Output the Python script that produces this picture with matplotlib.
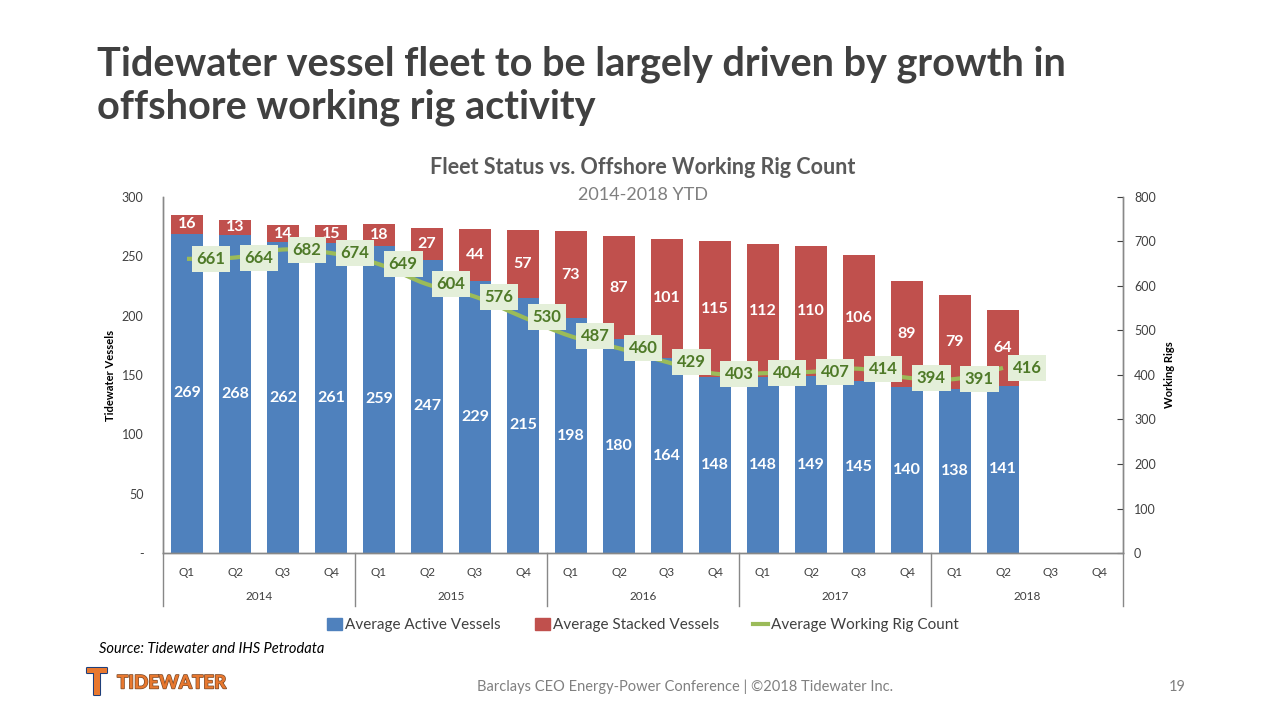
import matplotlib
matplotlib.use("Agg")
import matplotlib.pyplot as plt
from matplotlib.path import Path
from matplotlib.patches import PathPatch, Patch
from matplotlib.lines import Line2D
import matplotlib.patheffects as pe
import matplotlib.transforms as mtransforms
import numpy as np

plt.rcParams['font.family'] = ['Lato', 'DejaVu Sans']

quarters = ["Q1", "Q2", "Q3", "Q4"] * 5
years = ["2014", "2015", "2016", "2017", "2018"]
active = [269, 268, 262, 261, 259, 247, 229, 215, 198, 180, 164, 148, 148, 149, 145, 140, 138, 141]
stacked = [16, 13, 14, 15, 18, 27, 44, 57, 73, 87, 101, 115, 112, 110, 106, 89, 79, 64]
rigs = [661, 664, 682, 674, 649, 604, 576, 530, 487, 460, 429, 403, 404, 407, 414, 394, 391, 416]

BLUE = "#4f81bd"
RED = "#c0504d"
GREEN = "#9bbb59"
DKGREEN = "#4f7a28"
LBOX = "#e4efd9"
GRAY = "#404040"

fig = plt.figure(figsize=(12.8, 7.2), dpi=100)
ax = fig.add_axes([163/1280, 1-553/720, (1123-163)/1280, (553-197)/720])
ax2 = ax.twinx()

n = len(quarters)
x = np.arange(len(active))
w = 0.66
ax.bar(x, active, width=w, color=BLUE, zorder=2)
ax.bar(x, stacked, width=w, bottom=active, color=RED, zorder=2)
ax.set_xlim(-0.5, n - 0.5)
ax.set_ylim(0, 300)
ax.set_yticks([0, 50, 100, 150, 200, 250, 300])
ax.set_yticklabels(["-", "50", "100", "150", "200", "250", "300"])
ax.tick_params(axis='y', length=0, labelsize=9, colors=GRAY, pad=14)
ax.set_xticks([])
ax2.set_ylim(0, 800)
ax2.set_yticks(range(0, 801, 100))
ax2.tick_params(axis='y', direction='in', length=4, labelsize=9, colors=GRAY, pad=8)
for a in (ax, ax2):
    a.spines['top'].set_visible(False)
    for s in ('left', 'right', 'bottom'):
        a.spines[s].set_color("#888888")
        a.spines[s].set_linewidth(1)
ax.patch.set_visible(False)

for i in x:
    ax.text(i, active[i] / 2, str(active[i]), ha='center', va='center', color='white',
            fontsize=11.5, fontweight='bold', zorder=3)
    ax.text(i, active[i] + stacked[i] / 2, str(stacked[i]), ha='center', va='center',
            color='white', fontsize=11.5, fontweight='bold', zorder=3)

# smoothed line through rig points (Catmull-Rom as cubic Bezier)
pts = np.column_stack([x, rigs]).astype(float)
verts = [tuple(pts[0])]
codes = [Path.MOVETO]
for i in range(len(pts) - 1):
    p0 = pts[i - 1] if i > 0 else pts[i]
    p1 = pts[i]
    p2 = pts[i + 1]
    p3 = pts[i + 2] if i + 2 < len(pts) else pts[i + 1]
    c1 = p1 + (p2 - p0) / 6
    c2 = p2 - (p3 - p1) / 6
    verts += [tuple(c1), tuple(c2), tuple(p2)]
    codes += [Path.CURVE4] * 3
ax2.add_patch(PathPatch(Path(verts, codes), fill=False, edgecolor=GREEN, lw=3, zorder=4))
for i in x:
    ax2.text(i + 0.5, rigs[i], str(rigs[i]), ha='center', va='center', color=DKGREEN,
             fontsize=12, fontweight='bold', zorder=5,
             bbox=dict(boxstyle='square,pad=0.3', fc=LBOX, ec='none'))

# category axis
trans = mtransforms.blended_transform_factory(ax.transData, fig.transFigure)
for i, q in enumerate(quarters):
    fig.text(i, 1 - 572/720, q, transform=trans, ha='center', va='center', fontsize=8.5, color=GRAY)
for k, yr in enumerate(years):
    fig.text(4 * k + 1.5, 1 - 597/720, yr, transform=trans, ha='center', va='center', fontsize=8.5, color=GRAY)
for b in [-0.5, 3.5, 7.5, 11.5, 15.5, 19.5]:
    ln = Line2D([b, b], [1 - 553/720, 1 - 606/720], transform=trans, color="#888888", lw=1)
    fig.add_artist(ln)

ax.set_ylabel("Tidewater Vessels", fontsize=8, fontweight='bold', color='black', labelpad=22)
ax.yaxis.set_label_coords(-47/960, 0.5)
ax2.set_ylabel("Working Rigs", fontsize=8, fontweight='bold', color='black', rotation=90, labelpad=6)

# legend
handles = [Patch(color=BLUE), Patch(color=RED), Line2D([0], [0], color=GREEN, lw=3)]
labels = ["Average Active Vessels", "Average Stacked Vessels", "Average Working Rig Count"]
fig.legend(handles, labels, loc='center', bbox_to_anchor=(643/1280, 1 - 625/720), ncol=3,
           frameon=False, fontsize=11, handlelength=1.0, handleheight=0.9, handletextpad=0.2,
           columnspacing=2.2, labelcolor=GRAY)

# titles
fig.text(97/1280, 1 - 86/720, "Tidewater vessel fleet to be largely driven by growth in\noffshore working rig activity",
         ha='left', va='center', fontsize=28.5, fontweight='bold', color=GRAY, linespacing=1.17)
fig.text(643/1280, 1 - 167/720, "Fleet Status vs. Offshore Working Rig Count", ha='center', va='center',
         fontsize=15.5, fontweight='bold', color="#595959")
fig.text(643/1280, 1 - 195/720, "2014-2018 YTD", ha='center', va='center', fontsize=13, color="#7f7f7f")
fig.text(99/1280, 1 - 649/720, "Source: Tidewater and IHS Petrodata", ha='left', va='center',
         fontsize=10.5, style='italic', color='black')
fig.text(685/1280, 1 - 687/720, "Barclays CEO Energy-Power Conference | \u00a92018 Tidewater Inc.",
         ha='center', va='center', fontsize=10.5, color="#808080")
fig.text(1177/1280, 1 - 687/720, "19", ha='center', va='center', fontsize=10.5, color="#808080")

# logo approximation
outline = [pe.withStroke(linewidth=1.5, foreground="#1f3f7a")]
fig.text(86/1280, 1 - 684/720, "T", ha='left', va='center', fontsize=26, fontweight='black',
         color="#e8782f", path_effects=outline)
fig.text(117/1280, 1 - 683/720, "TIDEWATER", ha='left', va='center', fontsize=13.5, fontweight='black',
         color="#e8782f", path_effects=[pe.withStroke(linewidth=1, foreground="#7a4a2a")])

fig.savefig("out.png", dpi=100)
